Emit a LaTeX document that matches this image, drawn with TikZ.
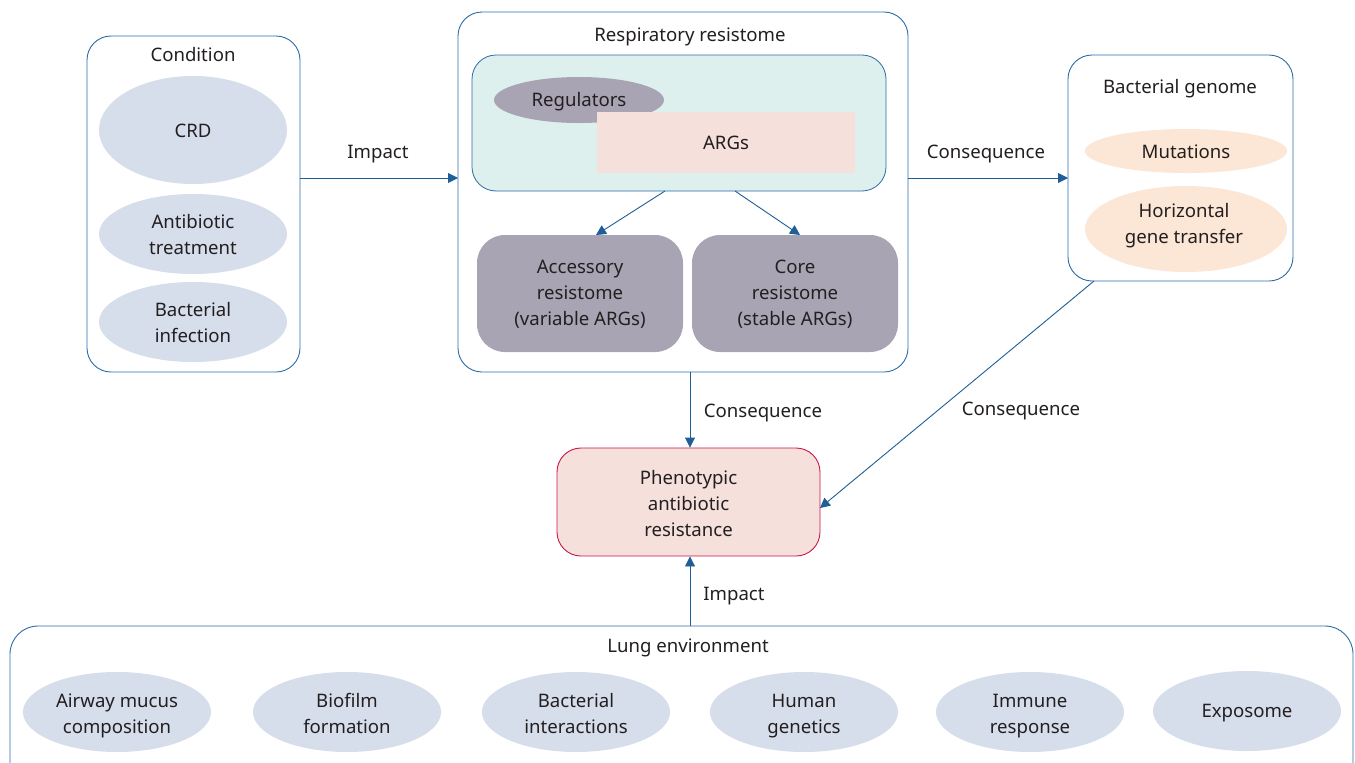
\documentclass[tikz,border=0pt]{standalone}
\usepackage{fontspec}
\setmainfont{Noto Sans}
\usetikzlibrary{shapes.geometric,arrows.meta}
\definecolor{boxblue}{HTML}{2B6CA8}
\definecolor{arrowblue}{HTML}{1F5E97}
\definecolor{ellblue}{HTML}{D6DEEB}
\definecolor{teal}{HTML}{DDF0EE}
\definecolor{greyp}{HTML}{A9A4B3}
\definecolor{argpink}{HTML}{F5E0DC}
\definecolor{peach}{HTML}{FCE6D6}
\definecolor{crimson}{HTML}{C8184A}
\definecolor{txt}{HTML}{231F20}
\tikzset{
  every node/.style={font=\fontsize{18.6}{26}\selectfont, text=txt, align=center},
  outerbox/.style={draw=boxblue, line width=0.9pt, rounded corners=24pt, fill=white},
  ell/.style={ellipse, fill=ellblue, inner sep=0pt, minimum width=188pt},
  peachell/.style={ellipse, fill=peach, inner sep=0pt, minimum width=202pt},
  conn/.style={draw=arrowblue, line width=0.9pt, -{Triangle[length=10pt,width=10pt]}},
  lbl/.style={inner sep=0pt},
}
\begin{document}
\begin{tikzpicture}[x=1pt,y=-1pt]
\clip (0,0) rectangle (1355,763);
\fill[white] (0,0) rectangle (1355,763);

% Condition box
\draw[outerbox] (87,36) rectangle (300,372);
\coordinate (condR) at (300,178);
\node[lbl] (condT) at (193,55) {Condition};
\node[ell, minimum height=108pt] (crd) at (193,130) {};
\node[lbl] (crdT) at (193,131) {CRD};
\node[ell, minimum height=80pt] (abt) at (193,234) {};
\node[lbl] (abtT) at (193,235) {Antibiotic\\treatment};
\node[ell, minimum height=80pt] (binf) at (193,322) {};
\node[lbl] (binfT) at (193,323) {Bacterial\\infection};

% Respiratory resistome box
\draw[outerbox] (458,12) rectangle (908,372);
\coordinate (resL) at (458,178);
\coordinate (resR) at (908,178);
\coordinate (resB) at (690,372);
\node[lbl] (resT) at (690,37) {Respiratory resistome};
\draw[draw=boxblue, line width=0.8pt, fill=teal, rounded corners=24pt] (472,55) rectangle (886,191);
\coordinate (innerA) at (665,191);
\coordinate (innerB) at (735,191);
\node[ellipse, fill=greyp, inner sep=0pt, minimum width=170pt, minimum height=46pt] (reg) at (579,100) {};
\node[lbl] (regT) at (579,102) {Regulators};
\fill[argpink] (597,112) rectangle (855,173);
\node[lbl] (args) at (726,143) {ARGs};
\fill[greyp, rounded corners=28pt] (477,235) rectangle (683,352);
\node[lbl] (acc) at (580,294) {Accessory\\resistome\\(variable ARGs)};
\fill[greyp, rounded corners=28pt] (692,235) rectangle (898,352);
\node[lbl] (core) at (795,294) {Core\\resistome\\(stable ARGs)};
\coordinate (accT) at (596,235);
\coordinate (coreT) at (800,235);
\draw[conn] (innerA) -- (accT);
\draw[conn] (innerB) -- (coreT);

% Bacterial genome box
\draw[outerbox] (1068,55) rectangle (1293,281);
\coordinate (genL) at (1068,178);
\coordinate (genB) at (1094,281);
\node[lbl] (genT) at (1180,89) {Bacterial genome};
\node[peachell, minimum height=44pt] (mut) at (1186,151) {};
\node[lbl] (mutT) at (1186,152) {Mutations};
\node[peachell, minimum height=86pt] (hgt) at (1186,229) {};
\node[lbl] (hgtT) at (1184,226) {Horizontal\\gene transfer};

% Phenotypic
\node[draw=crimson, line width=0.9pt, fill=argpink, rounded corners=24pt, minimum width=263pt, minimum height=108pt] (phen) at (688.5,502) {};
\node[lbl] (phenT) at (688.5,504) {Phenotypic\\antibiotic\\resistance};
\coordinate (phenR) at (820,508);

% Lung environment
\draw[outerbox, rounded corners=28pt] (10,626) rectangle (1353,800);
\coordinate (lungT) at (690,626);
\node[lbl] (lungL) at (688,648) {Lung environment};
\node[ell, minimum height=80pt] (e1) at (117,712) {};
\node[lbl] (e1T) at (117,716) {Airway mucus\\composition};
\node[ell, minimum height=80pt] (e2) at (347,712) {};
\node[lbl] (e2T) at (347,713) {Biofilm\\formation};
\node[ell, minimum height=80pt] (e3) at (576,712) {};
\node[lbl] (e3T) at (576,714) {Bacterial\\interactions};
\node[ell, minimum height=80pt] (e4) at (804,712) {};
\node[lbl] (e4T) at (804,716) {Human\\genetics};
\node[ell, minimum height=80pt] (e5) at (1030,712) {};
\node[lbl] (e5T) at (1030,716) {Immune\\response};
\node[ell, minimum height=80pt] (e6) at (1247,711) {};
\node[lbl] (e6T) at (1247,713) {Exposome};

% Connectors
\draw[conn] (condR) -- (resL);
\node[lbl] (l1) at (378,154) {Impact};
\draw[conn] (resR) -- (genL);
\node[lbl] (l2) at (986,154) {Consequence};
\draw[conn] (resB) -- (phen.north -| resB);
\node[lbl] (l3) at (763,413) {Consequence};
\draw[conn] (genB) -- (phenR);
\node[lbl] (l4) at (1021,411) {Consequence};
\draw[conn] (lungT) -- (phen.south -| lungT);
\node[lbl] (l5) at (734,596) {Impact};
\end{tikzpicture}
\end{document}
